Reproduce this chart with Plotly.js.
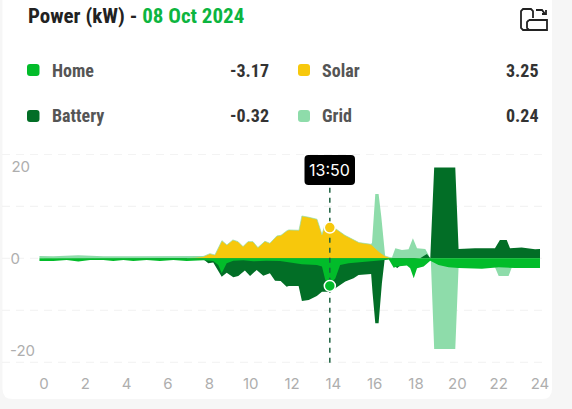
<!DOCTYPE html>
<html><head><meta charset="utf-8">
<script src="https://cdn.plot.ly/plotly-3.0.1.min.js"></script>
<style>html,body{margin:0;padding:0;background:#f6f6f6;overflow:hidden}#c{width:572px;height:409px}</style>
</head><body><div id="c"></div>
<script>
const titleLabel = "Power (kW) - ";
const titleDate = "08 Oct 2024";
const cursorLabel = "13:50";
const cursorHour = 13.83;
const cursorHome = -6.0;
const cursorSolar = 6.67;
const legendNames = ["Home","Solar","Battery","Grid"];
const legendValues = ["-3.17","3.25","-0.32","0.24"];
const xTicks = [0,2,4,6,8,10,12,14,16,18,20,22,24];
const yTicks = [-20,0,20];
const gridLevels = [-22.6,-11.3,0,11.3,22.6];

const solarX = [6.92,7.69,8.03,8.27,8.61,8.85,9.14,9.39,9.63,9.87,10.11,10.35,10.69,10.93,11.27,11.47,11.76,11.85,12.34,12.48,12.82,13.21,13.45,13.59,13.84,14.08,14.56,15.0,15.24,15.82,16.21,16.5,16.84];
const solarY = [0,0.36,1.01,0.72,3.84,2.9,3.99,3.62,2.54,3.62,3.62,2.32,3.7,3.26,4.86,5.0,6.01,6.16,6.09,9.2,8.91,8.48,5.14,7.25,6.67,6.52,5.0,3.99,3.41,3.04,1.45,0.51,0];

const homeX = [-0.22,0.45,1.1,1.66,2.23,2.87,3.35,3.84,4.32,4.97,5.61,6.26,6.9,7.71,8.19,8.43,8.6,8.84,9.16,9.64,10.13,10.77,11.42,11.84,12.48,13.2,13.45,13.61,13.82,14.1,14.33,14.74,15.83,16.35,16.68,16.92,17.08,17.56,17.72,17.89,18.05,18.37,18.69,19.09,19.58,20.06,21.19,22,22.8,24];
const homeY = [-0.58,-0.58,-0.36,-0.72,-0.36,-0.36,-0.58,-0.36,-0.58,-0.36,-0.58,-0.36,-0.58,-0.43,-0.58,-1.45,-3.26,-1.09,-0.51,-0.43,-0.65,-0.51,-0.58,-0.87,-1.3,-1.45,-1.81,-4.71,-5.87,-4.35,-1.45,-1.09,-0.72,-0.43,-0.22,-2.03,-1.81,-1.59,-2.17,-4.35,-2.17,-1.81,-0.51,-1.45,-1.96,-2.1,-2.25,-1.96,-2.1,-2.1];

const batteryX = [-0.22,7.71,7.95,8.19,8.6,8.84,9.16,9.4,9.72,9.97,10.29,10.61,10.93,11.18,11.45,11.74,11.84,12.32,12.48,12.81,13.2,13.45,13.82,14.1,14.58,14.98,15.22,15.83,15.9,16.03,16.19,16.35,16.48,16.68,16.92,17.08,17.56,18.2,18.37,18.53,18.69,18.88,19.9,20.06,20.85,21.82,22.06,22.39,22.55,23.11,23.76,24];
const batteryY = [0,-0.22,-1.09,-0.94,-3.99,-3.12,-4.13,-3.84,-2.68,-3.84,-2.54,-3.77,-3.26,-4.86,-4.93,-6.16,-6.01,-6.01,-9.28,-9.06,-8.19,-7.25,-7.25,-6.52,-5.07,-4.35,-3.62,-3.41,-7.61,-14.13,-14.13,-5.43,-0.36,-0.22,-1.09,-2.17,-0.36,0,0.51,0.94,0,19.71,19.71,2.03,2.17,2.17,3.99,3.99,2.17,2.32,1.96,2.03];

const gridX = [-0.22,0.45,1.66,2.87,4.32,6.26,7.71,8.0,15.8,15.83,15.87,16.03,16.19,16.32,16.51,16.68,16.84,17,17.32,17.64,17.85,18.05,18.45,18.61,18.72,18.88,19.9,20.06,21.82,22,22.48,22.64,24];
const gridY = [0.51,0.43,0.65,0.43,0.43,0.51,0.51,0,0,3.19,3.26,13.99,13.99,9.06,0.36,0,0.22,2.17,1.81,1.96,4.35,2.17,2.03,0.72,-0.72,-19.71,-19.71,-1.96,-1.96,-3.84,-3.84,-1.96,-1.96];

const colors = {Home:"#02bc2a",Solar:"#f7c80c",Battery:"#026e26",Grid:"#8edcaa"};
const W=572,H=409,L=39,R=32,T=154,B=46;
const px=x=>(x-L)/(W-L-R), py=y=>1-(y-T)/(H-T-B);
const cond="'Roboto Condensed',Roboto,sans-serif", axisFont="Inter, sans-serif";
function area(x,y,c,extra){return Object.assign({type:"scatter",mode:"lines",x,y,fill:"tozeroy",fillcolor:c,line:{width:0,color:c},hoverinfo:"skip",showlegend:false},extra||{});}
const data=[
 area(gridX,gridY,colors.Grid),
 area(batteryX,batteryY,colors.Battery),
 area(solarX,solarY,colors.Solar,{line:{width:0.7,color:colors.Grid}}),
 area(homeX,homeY,colors.Home),
 {type:"scatter",mode:"lines",x:[cursorHour,cursorHour],y:[-22.7,16.8],line:{color:"#1d6240",width:1.5,dash:"5px,5px"},showlegend:false,hoverinfo:"skip"},
 {type:"scatter",mode:"markers",x:[cursorHour,cursorHour],y:[cursorSolar,cursorHome],marker:{size:11,color:[colors.Solar,colors.Home],line:{color:"#fff",width:1.5}},showlegend:false,hoverinfo:"skip"}
];
function shapeRect(x0,y0,x1,y1,r,fill,layer){
 const p=`M${px(x0+r)},${py(y0)}L${px(x1-r)},${py(y0)}Q${px(x1)},${py(y0)} ${px(x1)},${py(y0+r)}L${px(x1)},${py(y1-r)}Q${px(x1)},${py(y1)} ${px(x1-r)},${py(y1)}L${px(x0+r)},${py(y1)}Q${px(x0)},${py(y1)} ${px(x0)},${py(y1-r)}L${px(x0)},${py(y0+r)}Q${px(x0)},${py(y0)} ${px(x0+r)},${py(y0)}Z`;
 return {type:"path",xref:"paper",yref:"paper",path:p,fillcolor:fill,line:{width:0},layer:layer||"above"};
}
function stroke(pts){return {type:"path",xref:"paper",yref:"paper",path:pts.map((p,i)=>(i?"L":"M")+px(p[0])+","+py(p[1])).join(""),line:{color:"#222",width:1.8},fillcolor:"rgba(0,0,0,0)"};}
const shapes=[
 shapeRect(2.5,-20,552,399,10,"#ffffff","below"),
 ...gridLevels.map(v=>({type:"line",xref:"paper",yref:"y",x0:px(2),x1:px(548),y0:v,y1:v,line:{color:"#f1f1f1",width:1,dash:"8px,6px"},layer:"below"})),
 shapeRect(27,64,39.5,76,3,colors.Home),
 shapeRect(298,64,310,76,3,colors.Solar),
 shapeRect(27,110,39.5,122,3,colors.Battery),
 shapeRect(298,110,310,122,3,colors.Grid),
 shapeRect(304.5,155,355,185,4,"#000000"),
 stroke([[534,30],[523,30],[521,28],[521,11],[523,9],[531,9],[533,11],[533,18]]),
 stroke([[529,20],[547,20],[547,30],[529,30],[527,28],[527,22],[529,20]]),
 stroke([[536,10],[542,10],[545,14]]),
 stroke([[542,14],[546,14],[546,10]])
];
function note(x,y,text,size,color,anchor,fam,weight){return {xref:"paper",yref:"paper",x:px(x),y:py(y),text,showarrow:false,xanchor:anchor||"left",yanchor:"middle",font:{size,color,family:fam||cond,weight:weight||700}};}
const annotations=[
 note(25.5,16,titleLabel.replace(/ /g,"\u00a0")+`<span style="color:#0cb53f">${titleDate}</span>`,21,"#222222"),
 note(50,70,legendNames[0],18,"#555555"),
 note(271,70,legendValues[0],18,"#333333","right"),
 note(320,70,legendNames[1],18,"#555555"),
 note(541,70,legendValues[1],18,"#333333","right"),
 note(50,116,legendNames[2],18,"#555555"),
 note(271,116,legendValues[2],18,"#333333","right"),
 note(320,116,legendNames[3],18,"#555555"),
 note(541,116,legendValues[3],18,"#333333","right"),
 note(329.7,170,cursorLabel,16,"#ffffff","center",axisFont,400)
];
const layout={width:W,height:H,margin:{l:L,r:R,t:T,b:B,pad:0},paper_bgcolor:"#f6f6f6",plot_bgcolor:"rgba(0,0,0,0)",showlegend:false,hovermode:false,
 xaxis:{range:[-0.242,24],tickmode:"array",tickvals:xTicks,ticktext:xTicks.map(String),showgrid:false,zeroline:false,showline:false,ticks:"outside",ticklen:7,tickcolor:"rgba(0,0,0,0)",tickfont:{family:axisFont,size:15,color:"#aeaeae"},automargin:false,fixedrange:true},
 yaxis:{range:[-22.76,22.67],tickmode:"array",tickvals:yTicks,ticktext:["-20","0\u2002\u2002","20\u2004"],showgrid:false,zeroline:false,showline:false,ticks:"outside",ticklen:0,tickcolor:"rgba(0,0,0,0)",tickfont:{family:axisFont,size:15,color:"#aeaeae"},automargin:false,fixedrange:true},
 shapes,annotations};
Plotly.newPlot("c",data,layout,{displayModeBar:false,staticPlot:true});
</script></body></html>
